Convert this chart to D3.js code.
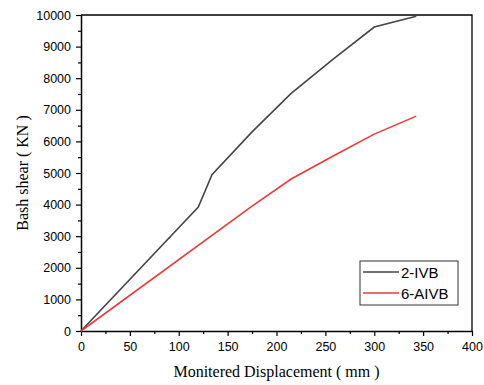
<!DOCTYPE html>
<meta charset="utf-8">
<script src="https://d3js.org/d3.v7.min.js"></script>
<style>
  body { margin: 0; background: #fff; }
  .tick text { font-family: Arial, "Liberation Sans", sans-serif; font-size: 12.5px; fill: #000; }
  .title { font-family: "Times New Roman", "Liberation Serif", serif; font-size: 16px; fill: #000; }
</style>
<div id="chart"></div>
<script>
  // data
  var disp2 = [0, 120, 134, 175, 215, 258, 300, 343];
  var shear2 = [0, 3920, 4950, 6300, 7520, 8600, 9620, 9960];
  var disp6 = [0, 175, 215, 258, 300, 343];
  var shear6 = [0, 3950, 4810, 5540, 6230, 6800];
  var seriesNames = ["2-IVB", "6-AIVB"];
  var xTicks = [0, 50, 100, 150, 200, 250, 300, 350, 400];
  var yTicks = [0, 1000, 2000, 3000, 4000, 5000, 6000, 7000, 8000, 9000, 10000];

  var W = 484, H = 385;
  var margin = {top: 15, right: 12, bottom: 54, left: 81};
  var width = W - margin.left - margin.right,
      height = H - margin.top - margin.bottom;

  var svg = d3.select("#chart").append("svg")
      .attr("width", W)
      .attr("height", H)
    .append("g")
      .attr("transform", "translate(" + margin.left + "," + margin.top + ")");

  var x = d3.scaleLinear().domain([0, 400]).range([0, width]);
  var y = d3.scaleLinear().domain([0, 10000]).range([height, 0]);

  // minor ticks
  svg.append("g")
    .attr("transform", "translate(0," + height + ")")
    .call(d3.axisBottom(x).tickValues(d3.range(25, 400, 50)).tickSize(3).tickFormat(""))
    .call(g => g.select(".domain").remove())
    .selectAll("line").attr("stroke-width", 1.2);
  svg.append("g")
    .call(d3.axisLeft(y).tickValues(d3.range(500, 10000, 1000)).tickSize(3).tickFormat(""))
    .call(g => g.select(".domain").remove())
    .selectAll("line").attr("stroke-width", 1.2);

  // frame top / right
  svg.append("path")
    .attr("d", "M0,0H" + width + "V" + height)
    .attr("fill", "none")
    .attr("stroke", "#000")
    .attr("stroke-width", 1.3);

  var xAxis = svg.append("g")
    .attr("transform", "translate(0," + height + ")")
    .call(d3.axisBottom(x).tickValues(xTicks).tickFormat(d3.format("d")).tickSize(5).tickSizeOuter(0).tickPadding(6));
  var yAxis = svg.append("g")
    .call(d3.axisLeft(y).tickValues(yTicks).tickFormat(d3.format("d")).tickSize(5).tickSizeOuter(0).tickPadding(5));
  [xAxis, yAxis].forEach(function(a) {
    a.select(".domain").attr("stroke-width", 1.5);
    a.selectAll(".tick line").attr("stroke-width", 1.2);
  });

  var line = d3.line().x(d => x(d[0])).y(d => y(d[1]));
  var s2 = disp2.map((d, i) => [d, shear2[i]]);
  var s6 = disp6.map((d, i) => [d, shear6[i]]);
  var colors = ["#454545", "#f03838"];

  svg.append("path").datum(s2)
    .attr("d", line).attr("fill", "none")
    .attr("stroke", colors[0]).attr("stroke-width", 1.6);
  svg.append("path").datum(s6)
    .attr("d", line).attr("fill", "none")
    .attr("stroke", colors[1]).attr("stroke-width", 1.6);

  // axis titles
  svg.append("text").attr("class", "title")
    .attr("x", width / 2).attr("y", height + 46)
    .attr("text-anchor", "middle")
    .text("Monitered Displacement ( mm )");
  svg.append("text").attr("class", "title")
    .attr("transform", "translate(-53," + height / 2 + ") rotate(-90)")
    .attr("text-anchor", "middle")
    .text("Bash shear ( KN )");

  // legend
  var lg = svg.append("g").attr("transform", "translate(" + (360 - margin.left) + "," + (261 - margin.top) + ")");
  lg.append("rect")
    .attr("width", 98).attr("height", 44)
    .attr("fill", "#fff").attr("stroke", "#333").attr("stroke-width", 1);
  seriesNames.forEach(function(n, i) {
    var yy = 11 + i * 21;
    lg.append("line")
      .attr("x1", 3).attr("x2", 39).attr("y1", yy).attr("y2", yy)
      .attr("stroke", colors[i]).attr("stroke-width", 1.4);
    lg.append("text")
      .attr("x", 41).attr("y", yy + 5.5)
      .style("font-family", "Arial, 'Liberation Sans', sans-serif")
      .style("font-size", "15px")
      .text(n);
  });
</script>
